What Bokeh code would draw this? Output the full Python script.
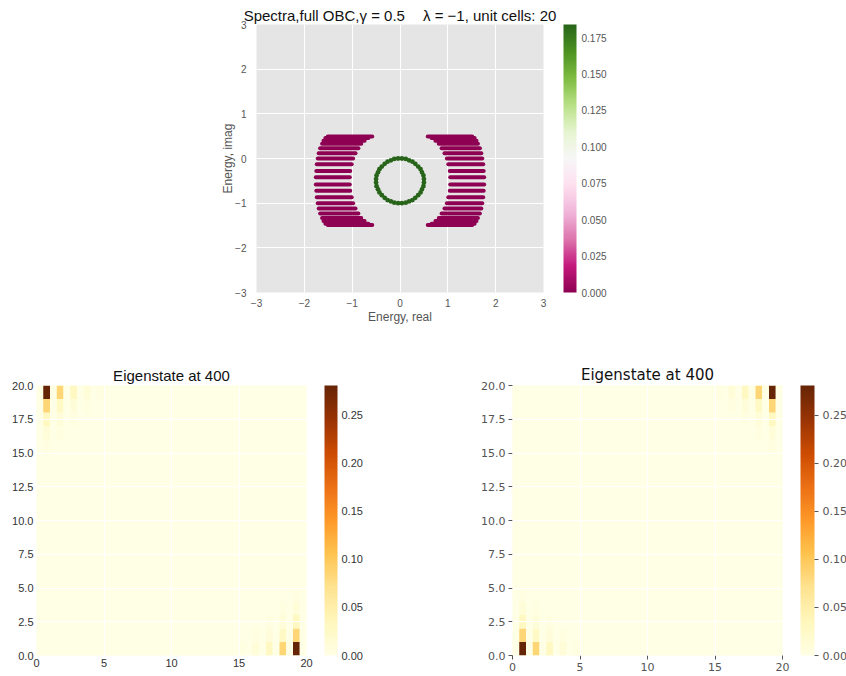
import numpy as np
from bokeh.plotting import figure
from bokeh.layouts import column, row
from bokeh.models import (ColumnDataSource, LinearColorMapper, ColorBar, FixedTicker,
                          PrintfTickFormatter)
from bokeh.transform import transform
from bokeh.embed import file_html
from bokeh.resources import INLINE

# ---------------- data ----------------
# bulk bands of the spectrum: one row per imaginary level (left band; right band mirrors it)
band_imag = [0.49, 0.46, 0.40, 0.33, 0.23, 0.12, 0.00, -0.13, -0.28, -0.42,
             -0.58, -0.72, -0.87, -1.00, -1.12, -1.23, -1.33, -1.40, -1.46, -1.49]
band_re_outer = [-1.51, -1.56, -1.60, -1.63, -1.67, -1.70, -1.72, -1.74, -1.75, -1.76,
                 -1.76, -1.75, -1.74, -1.72, -1.70, -1.67, -1.63, -1.60, -1.56, -1.51]
band_re_inner = [-0.58, -0.66, -0.74, -0.81, -0.87, -0.93, -0.98, -1.01, -1.04, -1.05,
                 -1.05, -1.04, -1.01, -0.98, -0.93, -0.87, -0.81, -0.74, -0.66, -0.58]
band_weight = 0.0

# edge states on the small circle
edge_re = [0.50, 0.49, 0.46, 0.43, 0.38, 0.32, 0.26, 0.19, 0.12, 0.04,
           -0.04, -0.12, -0.19, -0.26, -0.32, -0.38, -0.43, -0.46, -0.49, -0.50,
           -0.50, -0.49, -0.46, -0.43, -0.38, -0.32, -0.26, -0.19, -0.12, -0.04,
           0.04, 0.12, 0.19, 0.26, 0.32, 0.38, 0.43, 0.46, 0.49, 0.50]
edge_im = [-0.46, -0.38, -0.31, -0.24, -0.18, -0.12, -0.07, -0.04, -0.01, 0.00,
           0.00, -0.01, -0.04, -0.07, -0.12, -0.18, -0.24, -0.31, -0.38, -0.46,
           -0.54, -0.62, -0.69, -0.76, -0.82, -0.88, -0.93, -0.96, -0.99, -1.00,
           -1.00, -0.99, -0.96, -0.93, -0.88, -0.82, -0.76, -0.69, -0.62, -0.54]
edge_weight = 0.184
spec_max = 0.184

# eigenstate amplitude near a corner: rows = steps from the edge row, columns = unit cells from corner
corner_amp = [
    [0.281, 0.085, 0.030, 0.011, 0.004],
    [0.085, 0.028, 0.010, 0.004],
    [0.032, 0.010, 0.004],
    [0.011, 0.004],
    [0.004],
]
n_cells = 20
state_max = 0.281

spec_ticks = [-3, -2, -1, 0, 1, 2, 3]
spec_cb_ticks = [0.0, 0.025, 0.05, 0.075, 0.1, 0.125, 0.15, 0.175]
heat_xticks = [0, 5, 10, 15, 20]
heat_yticks = [0, 2.5, 5, 7.5, 10, 12.5, 15, 17.5, 20]
heat_cb_ticks = [0.0, 0.05, 0.10, 0.15, 0.20, 0.25]


# ---------------- colour maps ----------------
def interp(hexes, n=256):
    rgb = np.array([[int(h[i:i + 2], 16) for i in (1, 3, 5)] for h in hexes], float)
    t = np.linspace(0, 1, len(hexes))
    tt = np.linspace(0, 1, n)
    return ['#%02x%02x%02x' % tuple(int(round(np.interp(v, t, rgb[:, c]))) for c in range(3))
            for v in tt]


PIYG = interp(['#8e0152', '#c51b7d', '#de77ae', '#f1b6da', '#fde0ef', '#f7f7f7',
               '#e6f5d0', '#b8e186', '#7fbc41', '#4d9221', '#276419'])
YLORBR = interp(['#ffffe5', '#fff7bc', '#fee391', '#fec44f', '#fe9929', '#ec7014',
                 '#cc4c02', '#993404', '#662506'])

GREY = "#555555"
ARIAL = "Liberation Sans"
DEJAVU = "DejaVu Sans"

# ---------------- top: spectrum ----------------
spec_mapper = LinearColorMapper(palette=PIYG, low=0.0, high=spec_max)
F1_W, F1_H = 287, 268

p1 = figure(width=846, height=340, x_range=(-3, 3), y_range=(-3, 3),
            output_backend="svg", toolbar_location=None,
            min_border_left=256, min_border_right=846 - 256 - F1_W,
            min_border_top=24, min_border_bottom=340 - 24 - F1_H)
p1.background_fill_color = "#e5e5e5"
p1.outline_line_color = None
p1.grid.grid_line_color = "white"
p1.grid.grid_line_width = 1
p1.xaxis.ticker = FixedTicker(ticks=spec_ticks)
p1.yaxis.ticker = FixedTicker(ticks=spec_ticks)
overr = {t: (str(t) if t >= 0 else "\u2212" + str(-t)) for t in spec_ticks}
p1.xaxis.major_label_overrides = overr
p1.yaxis.major_label_overrides = overr
for ax in (p1.xaxis[0], p1.yaxis[0]):
    ax.axis_line_color = None
    ax.major_tick_line_color = None
    ax.minor_tick_line_color = None
    ax.major_label_text_font = ARIAL
    ax.major_label_text_font_size = "10px"
    ax.major_label_text_color = GREY
    ax.axis_label_text_font = ARIAL
    ax.axis_label_text_font_size = "12px"
    ax.axis_label_text_font_style = "normal"
    ax.axis_label_text_color = GREY
p1.xaxis.major_label_standoff = 0
p1.xaxis.axis_label_standoff = 0
p1.yaxis.major_label_standoff = 4
p1.yaxis.axis_label_standoff = -3
p1.xaxis.axis_label = "Energy, real"
p1.yaxis.axis_label = "Energy, imag"
p1.title.text = "Spectra,full OBC,\u03b3 = 0.5\u2003\u2009\u03bb = \u22121, unit cells: 20"
p1.title.align = "center"
p1.title.text_font = ARIAL
p1.title.text_font_size = "15px"
p1.title.text_font_style = "normal"
p1.title.text_color = "#111111"
p1.title.standoff = 1

bands = ColumnDataSource(dict(
    x0=band_re_outer + [-v for v in band_re_outer],
    x1=band_re_inner + [-v for v in band_re_inner],
    y=band_imag + band_imag,
    w=[band_weight] * (2 * len(band_imag)),
))
p1.segment(x0="x0", y0="y", x1="x1", y1="y", source=bands,
           line_color=transform("w", spec_mapper), line_width=4, line_cap="round")
edges = ColumnDataSource(dict(x=edge_re, y=edge_im, w=[edge_weight] * len(edge_re)))
p1.scatter(x="x", y="y", source=edges, size=4.8,
           fill_color=transform("w", spec_mapper), line_color=None)

cb1 = ColorBar(color_mapper=spec_mapper, width=13, height=F1_H, padding=0,
               location=(F1_W + 20, 0),
               ticker=FixedTicker(ticks=spec_cb_ticks),
               formatter=PrintfTickFormatter(format="%.3f"),
               major_tick_line_color=None, minor_tick_line_color=None,
               bar_line_color=None, border_line_color=None, background_fill_alpha=0,
               major_label_text_font=ARIAL, major_label_text_font_size="10px",
               major_label_text_color=GREY, label_standoff=5)
p1.add_layout(cb1)


# ---------------- bottom: eigenstate heat maps ----------------
def state_source(corners):
    vals = {}
    for (col0, dcol, row0, drow) in corners:
        for j, rowvals in enumerate(corner_amp):
            for i, v in enumerate(rowvals):
                vals[(col0 + dcol * 2 * i, row0 + drow * j)] = v
    xs, ys, vs = [], [], []
    for r in range(n_cells):
        for c in range(2 * n_cells):
            xs.append(c * 0.5 + 0.25)
            ys.append(r + 0.5)
            vs.append(vals.get((c, r), 0.0))
    return ColumnDataSource(dict(x=xs, y=ys, v=vs))


H_F = 270


def heat_fig(src, left, font, tick_out, gap, bar_w):
    mapper = LinearColorMapper(palette=YLORBR, low=0.0, high=state_max)
    p = figure(width=423, height=336, x_range=(0, 20), y_range=(0, 20),
               output_backend="svg", toolbar_location=None,
               min_border_left=left, min_border_right=423 - left - H_F,
               min_border_top=45, min_border_bottom=336 - 45 - H_F)
    p.background_fill_color = YLORBR[0]
    p.outline_line_color = None
    p.rect(x="x", y="y", width=0.5, height=1, source=src,
           fill_color=transform("v", mapper), line_color=None)
    p.grid.grid_line_color = "white"
    p.grid.grid_line_width = 1
    p.grid.level = "overlay"
    p.xaxis.ticker = FixedTicker(ticks=heat_xticks)
    p.yaxis.ticker = FixedTicker(ticks=heat_yticks)
    p.yaxis.formatter = PrintfTickFormatter(format="%.1f")
    lab_col = "#333333" if font == ARIAL else GREY
    for ax in (p.xaxis[0], p.yaxis[0]):
        ax.axis_line_color = None
        ax.minor_tick_line_color = None
        ax.major_tick_in = 0
        ax.major_tick_out = tick_out
        ax.major_tick_line_color = GREY if tick_out else None
        ax.major_label_standoff = 3
        ax.major_label_text_font = font
        ax.major_label_text_font_size = "11px"
        ax.major_label_text_color = lab_col
    p.title.text = "Eigenstate at 400"
    p.title.align = "center"
    p.title.text_font = font
    p.title.text_font_size = "15px"
    p.title.text_font_style = "normal"
    p.title.text_color = "#111111"
    p.title.standoff = 3
    cb = ColorBar(color_mapper=mapper, width=bar_w, height=H_F, padding=0,
                  location=(H_F + gap, 0),
                  ticker=FixedTicker(ticks=heat_cb_ticks),
                  formatter=PrintfTickFormatter(format="%.2f"),
                  major_tick_in=0, major_tick_out=tick_out,
                  major_tick_line_color=GREY if tick_out else None,
                  minor_tick_line_color=None,
                  bar_line_color=None, border_line_color=None, background_fill_alpha=0,
                  major_label_text_font=font, major_label_text_font_size="11px",
                  major_label_text_color=lab_col, label_standoff=4)
    p.add_layout(cb)
    return p


# left map: top-left corner on odd columns, bottom-right corner on even columns
src_a = state_source([(1, 1, n_cells - 1, -1), (2 * n_cells - 2, -1, 0, 1)])
# right map: bottom-left corner on odd columns, top-right corner on even columns
src_b = state_source([(1, 1, 0, 1), (2 * n_cells - 2, -1, n_cells - 1, -1)])

p2 = heat_fig(src_a, 36, ARIAL, 0, 18, 13)
p3 = heat_fig(src_b, 512 - 423, DEJAVU, 4, 18, 14)

layout = column(p1, row(p2, p3))
open("out.html", "w").write(file_html(layout, INLINE))
